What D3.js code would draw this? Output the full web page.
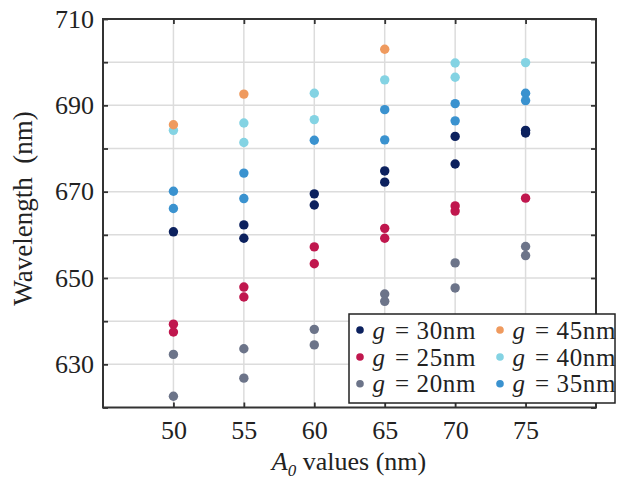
<!DOCTYPE html>
<html>
<head>
<meta charset="utf-8">
<script src="https://cdn.jsdelivr.net/npm/d3@7"></script>
<style>
  body { margin: 0; background: #fff; }
  text { font-family: "Liberation Serif", "Times New Roman", serif; fill: #222; }
</style>
</head>
<body>
<script>
// A0 values (nm) for each column of points
var a0Values = [50, 55, 60, 65, 70, 75];

// wavelengths (nm), one list per gap g
var g30 = [[50, 660.7], [55, 662.3], [55, 659.2], [60, 669.5], [60, 666.9], [65, 674.8], [65, 672.2],
           [70, 682.8], [70, 676.4], [75, 684.2], [75, 683.6]];
var g25 = [[50, 639.3], [50, 637.5], [55, 647.9], [55, 645.6], [60, 657.2], [60, 653.3], [65, 661.5],
           [65, 659.2], [70, 666.7], [70, 665.5], [75, 668.5]];
var g20 = [[50, 632.3], [50, 622.6], [55, 633.6], [55, 626.8], [60, 638.1], [60, 634.5], [65, 646.3],
           [65, 644.6], [70, 653.5], [70, 647.7], [75, 657.3], [75, 655.2]];
var g45 = [[50, 685.5], [55, 692.6], [65, 703.0]];
var g40 = [[50, 684.2], [55, 685.9], [55, 681.4], [60, 692.8], [60, 686.7], [65, 695.9],
           [70, 699.8], [70, 696.5], [75, 699.9]];
var g35 = [[50, 670.1], [50, 666.1], [55, 674.3], [55, 668.4], [60, 681.9], [65, 689.0], [65, 682.0],
           [70, 690.4], [70, 686.4], [75, 692.8], [75, 691.1]];

var yLabels = [630, 650, 670, 690, 710];
var yTicks = [620, 630, 640, 650, 660, 670, 680, 690, 700, 710];

var series = [
  {name: '30nm', data: g30, color: '#0c215e'},
  {name: '25nm', data: g25, color: '#c0174e'},
  {name: '20nm', data: g20, color: '#6c7489'},
  {name: '45nm', data: g45, color: '#ef9a5e'},
  {name: '40nm', data: g40, color: '#84d3e3'},
  {name: '35nm', data: g35, color: '#3a92cf'}
];
// draw order so that overlapping points stack like the original
var drawOrder = [2, 1, 0, 5, 4, 3];

var W = 618, H = 481;
var pL = 103, pR = 596, pT = 19, pB = 407.5;

var svg = d3.select('body').append('svg')
  .attr('width', W)
  .attr('height', H);

var x = d3.scaleLinear().domain([45, 80]).range([pL, pR]);
var y = d3.scaleLinear().domain([620, 710]).range([pB, pT]);

// grid
var grid = svg.append('g');
grid.selectAll('.gx').data(a0Values).enter().append('line')
  .attr('x1', d => x(d)).attr('x2', d => x(d))
  .attr('y1', pT).attr('y2', pB)
  .attr('stroke', '#dcdcdc').attr('stroke-width', 1.5);
grid.selectAll('.gy').data(yTicks.slice(1, -1)).enter().append('line')
  .attr('x1', pL).attr('x2', pR)
  .attr('y1', d => y(d)).attr('y2', d => y(d))
  .attr('stroke', '#dcdcdc').attr('stroke-width', 1.5);

// points
var pts = svg.append('g');
drawOrder.forEach(function(i) {
  var s = series[i];
  pts.selectAll(null).data(s.data).enter().append('circle')
    .attr('cx', d => x(d[0]))
    .attr('cy', d => y(d[1]))
    .attr('r', 4.7)
    .attr('fill', s.color);
});

// axes (ticks pointing inward, no labels on top/right)
var tk = 5;
svg.append('g').attr('transform', 'translate(0,' + pB + ')')
  .call(d3.axisBottom(x).tickValues(a0Values).tickSize(-tk).tickPadding(13).tickFormat(d3.format('d')))
  .call(g => g.select('.domain').remove());
svg.append('g').attr('transform', 'translate(0,' + pT + ')')
  .call(d3.axisTop(x).tickValues(a0Values).tickSize(-tk).tickFormat(''))
  .call(g => g.select('.domain').remove());
svg.append('g').attr('transform', 'translate(' + pL + ',0)')
  .call(d3.axisLeft(y).tickValues(yTicks).tickSize(-tk).tickPadding(9)
    .tickFormat(d => yLabels.indexOf(d) >= 0 ? d : ''))
  .call(g => g.select('.domain').remove());
svg.append('g').attr('transform', 'translate(' + pR + ',0)')
  .call(d3.axisRight(y).tickValues(yTicks).tickSize(-tk).tickFormat(''))
  .call(g => g.select('.domain').remove());

svg.selectAll('.tick line').attr('stroke', '#333').attr('stroke-width', 1.8);
svg.selectAll('.tick text')
  .style('font-family', '"Liberation Serif", serif')
  .style('font-size', '26px')
  .attr('fill', '#222');

svg.append('rect')
  .attr('x', pL).attr('y', pT)
  .attr('width', pR - pL).attr('height', pB - pT)
  .attr('fill', 'none').attr('stroke', '#333').attr('stroke-width', 2);

// axis titles
var xl = svg.append('text')
  .attr('x', 349).attr('y', 470)
  .attr('text-anchor', 'middle')
  .style('font-size', '26px');
xl.append('tspan').style('font-style', 'italic').text('A');
xl.append('tspan').style('font-style', 'italic').style('font-size', '17px').attr('dy', 6).text('0');
xl.append('tspan').attr('dy', -6).text(' values (nm)');

svg.append('text')
  .attr('transform', 'translate(32,208.5) rotate(-90)')
  .attr('text-anchor', 'middle')
  .style('font-size', '27px')
  .text('Wavelength\u00a0\u00a0(nm)');

// legend
var lg = svg.append('g');
lg.append('rect')
  .attr('x', 349).attr('y', 314)
  .attr('width', 266).attr('height', 89)
  .attr('fill', '#fff').attr('stroke', '#222').attr('stroke-width', 1.5);

var colX = [360, 500];
var rowY = [330, 357, 383.7];
series.forEach(function(s, i) {
  var cx = colX[Math.floor(i / 3)], cy = rowY[i % 3];
  lg.append('circle').attr('cx', cx).attr('cy', cy).attr('r', 3.8).attr('fill', s.color);
  var t = lg.append('text').attr('y', cy + 8.5).style('font-size', '25px');
  t.append('tspan').attr('x', cx + 12.5).style('font-style', 'italic').text('g');
  t.append('tspan').attr('x', cx + 35).text('=');
  t.append('tspan').attr('x', cx + 56.5).attr('textLength', 59).text(s.name);
});
</script>
</body>
</html>
